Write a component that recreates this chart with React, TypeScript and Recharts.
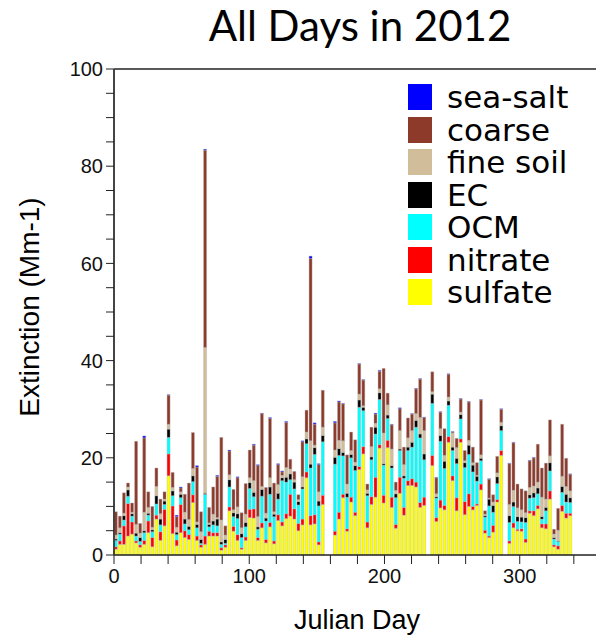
import React from 'react';
import { BarChart, Bar, XAxis, YAxis, ReferenceLine } from 'recharts';

// IMPROVE sampling days (every third day), a few samples missing
const days = [
  1, 4, 7, 10, 13, 16, 19, 22, 25, 28, 31, 34, 37, 40, 43, 46, 49, 52, 55, 58,
  61, 64, 67, 70, 73, 76, 79, 82, 85, 88, 91, 94, 97, 100, 103, 106, 109, 112, 115, 118,
  121, 124, 127, 130, 133, 136, 139, 142, 145, 148, 151, 154,
  163, 166, 169, 172, 175, 178, 181, 184, 187, 190, 193, 196, 199, 202, 205, 208, 211, 214,
  217, 220, 223, 226, 229,
  235, 238, 241, 244, 247, 250, 253, 256, 259, 262, 265, 268, 271, 274, 277, 280, 283, 286,
  292, 295, 298, 301, 304, 307, 310, 313, 316, 319, 322, 325, 328, 331, 334, 337,
];

const sulfate = [
  1.2, 2.2, 2.2, 3.9, 4.3, 2.5, 1.6, 2.2, 4.6, 1.7, 7.4, 3.0, 6.0, 16.3, 4.4, 1.9, 4.6, 3.6, 3.2, 10.8,
  3.0, 1.6, 2.2, 3.9, 3.9, 3.9, 1.0, 1.6, 9.1, 4.9, 3.0, 1.2, 3.0, 7.7, 7.6, 3.0, 5.6, 2.5, 5.8, 2.3,
  7.1, 6.0, 7.5, 8.0, 7.4, 5.0, 6.2, 15.9, 6.2, 6.4, 2.1, 10.4,
  4.1, 7.4, 11.8, 4.9, 10.9, 8.1, 17.6, 20.8, 5.6, 10.4, 11.9, 22.0, 10.7, 22.1, 9.8, 5.5, 12.7, 8.2,
  14.3, 14.3, 14.0, 9.8, 10.2,
  18.4, 6.9, 9.7, 9.3, 23.2, 15.3, 9.1, 23.2, 8.3, 10.0, 9.3, 10.2, 13.4, 4.5, 3.6, 4.7, 10.9, 20.5,
  2.4, 5.6, 5.0, 4.9, 2.6, 8.6, 8.1, 9.5, 5.6, 5.4, 11.5, 1.7, 1.2, 9.0, 7.6, 8.1,
];

const nitrate = [
  0.5, 0.7, 3.8, 6.7, 2.5, 0.4, 0.5, 0.8, 2.4, 1.9, 0.8, 1.8, 3.4, 4.5, 5.7, 1.2, 5.8, 1.4, 1.0, 1.6,
  0.9, 0.5, 1.7, 1.0, 0.7, 0.7, 0.5, 0.5, 0.8, 1.0, 1.2, 0.3, 0.7, 1.7, 1.9, 0.6, 1.0, 0.7, 0.9, 0.6,
  1.2, 0.8, 1.0, 4.5, 2.1, 1.5, 1.2, 1.2, 1.9, 1.9, 0.6, 1.9,
  0.8, 1.4, 0.7, 0.5, 1.0, 0.7, 0.6, 1.5, 1.2, 1.6, 4.1, 0.7, 1.6, 1.5, 2.1, 0.8, 3.3, 1.6,
  1.0, 1.4, 1.0, 1.0, 1.7,
  2.1, 0.8, 1.6, 0.9, 1.2, 1.0, 2.7, 0.7, 2.7, 2.6, 0.7, 0.3, 1.2, 0.6, 0.3, 1.4, 0.5, 1.0,
  0.5, 1.0, 0.3, 0.5, 0.7, 0.5, 1.0, 0.7, 0.8, 1.0, 1.7, 0.4, 0.7, 1.2, 1.0, 0.5,
];

const ocm = [
  1.3, 1.4, 1.2, 1.5, 1.2, 1.0, 0.7, 1.6, 1.2, 1.2, 2.3, 1.4, 1.0, 3.4, 2.1, 1.1, 1.4, 1.4, 1.0, 2.7,
  1.7, 0.3, 8.6, 0.9, 1.6, 1.4, 0.7, 0.3, 4.1, 2.0, 3.3, 2.1, 2.1, 4.3, 2.5, 1.7, 5.5, 3.8, 5.8, 5.0,
  3.2, 8.5, 6.5, 3.0, 4.1, 3.8, 6.2, 5.8, 9.8, 12.4, 7.4, 11.0,
  13.8, 11.7, 7.9, 6.5, 8.1, 8.6, 12.2, 7.4, 5.4, 7.6, 8.9, 9.3, 6.2, 4.5, 6.0, 5.5, 5.5, 6.0,
  6.2, 6.5, 11.3, 13.3, 7.7,
  10.7, 4.0, 12.1, 7.6, 6.4, 5.2, 7.0, 4.1, 7.0, 8.1, 7.1, 4.7, 4.8, 2.7, 6.2, 2.7, 3.3, 4.1,
  3.8, 3.4, 1.6, 1.4, 3.4, 2.6, 2.7, 2.4, 1.0, 2.7, 4.1, 1.2, 0.9, 2.7, 2.3, 2.2,
];

const ec = [
  0.3, 0.3, 0.9, 1.3, 0.5, 0.6, 0.8, 0.4, 0.4, 0.4, 1.7, 1.2, 0.7, 1.7, 1.0, 0.5, 0.7, 1.0, 0.7, 1.2,
  0.7, 0.8, 0.2, 0.5, 0.8, 1.4, 0.5, 0.8, 1.5, 0.8, 1.0, 0.8, 0.9, 1.2, 0.9, 0.5, 1.4, 0.6, 1.5, 0.5,
  1.2, 0.6, 1.0, 1.2, 1.4, 0.7, 0.4, 1.0, 0.8, 1.4, 1.0, 1.3,
  1.4, 1.4, 0.7, 0.8, 0.7, 1.0, 1.5, 0.7, 0.5, 0.6, 1.4, 1.4, 0.3, 0.7, 0.5, 0.8, 0.3, 0.5,
  0.7, 1.0, 1.4, 0.8, 1.2,
  1.9, 0.3, 1.2, 1.5, 0.9, 0.7, 1.1, 0.9, 1.0, 1.9, 1.4, 1.0, 0.5, 0.3, 1.4, 1.4, 1.4, 1.0,
  1.4, 0.9, 1.0, 1.0, 1.0, 0.7, 1.0, 1.2, 0.5, 0.7, 1.7, 0.3, 0.1, 1.2, 1.6, 1.0,
];

const fineSoil = [
  0.8, 1.0, 0.5, 0.6, 0.3, 1.8, 0.9, 3.8, 1.2, 0.5, 1.9, 1.1, 0.4, 1.0, 0.7, 1.0, 0.5, 1.4, 1.4, 1.5,
  0.5, 1.6, 30.0, 0.3, 1.4, 0.3, 4.5, 0.9, 1.0, 0.6, 1.4, 1.2, 1.7, 1.0, 2.4, 2.1, 0.6, 1.0, 1.9, 0.5,
  1.8, 0.5, 2.0, 1.0, 0.5, 0.4, 2.1, 1.4, 4.8, 0.5, 1.9, 1.7,
  1.5, 1.7, 2.4, 1.9, 0.8, 0.7, 1.2, 0.3, 0.7, 2.1, 0.8, 0.8, 6.3, 2.1, 3.4, 0.7, 3.8, 2.3,
  1.9, 2.4, 1.4, 3.4, 4.8,
  0.5, 0.6, 1.4, 1.2, 0.8, 2.9, 2.2, 0.5, 0.4, 1.0, 0.5, 0.2, 0.7, 0.3, 0.2, 0.7, 0.8, 0.7,
  2.3, 2.4, 1.8, 1.5, 1.0, 1.5, 1.4, 1.2, 4.0, 1.7, 1.4, 0.7, 2.2, 2.1, 1.6, 1.4,
];

const coarse = [
  4.8, 2.4, 4.2, 0.8, 1.9, 17.1, 2.0, 15.3, 3.2, 4.3, 3.8, 3.0, 1.5, 6.0, 3.1, 2.2, 0.8, 3.7, 7.5, 7.4,
  11.3, 4.1, 40.6, 3.2, 5.6, 8.5, 17.0, 1.9, 4.9, 4.2, 6.0, 3.1, 6.3, 5.7, 7.3, 10.5, 15.0, 5.3, 12.2, 5.9,
  4.1, 0.7, 9.3, 2.0, 1.7, 1.0, 7.2, 4.5, 37.5, 4.3, 5.6, 7.6,
  5.6, 7.9, 7.6, 6.0, 3.8, 4.6, 6.2, 5.3, 1.2, 4.0, 1.9, 3.6, 13.3, 2.4, 5.0, 1.7, 4.5, 3.6,
  4.1, 3.4, 5.1, 7.9, 2.7,
  4.1, 3.3, 3.4, 5.5, 4.7, 0.2, 1.9, 2.7, 2.1, 7.9, 3.2, 2.6, 11.3, 0.7, 3.9, 1.5, 3.4, 2.7,
  8.4, 9.8, 4.9, 4.3, 4.5, 5.5, 5.8, 7.8, 6.0, 7.4, 7.4, 1.0, 4.5, 10.7, 5.8, 3.4,
];

const seaSalt = [
  0, 0, 0, 0, 0, 0, 0, 0.4, 0, 0, 0, 0, 0, 0.1, 0, 0.3, 0.2, 0, 0, 0,
  0.3, 0, 0.2, 0, 0, 0.2, 0, 0, 0.2, 0, 0.2, 0, 0, 0, 0.2, 0.2, 0.1, 0, 0.2, 0,
  0.2, 0.2, 0.2, 0, 0, 0, 0.2, 0, 0.5, 0.3, 0.2, 0,
  0.3, 0.2, 0.1, 0, 0, 0, 0.1, 0.1, 0, 0, 0.2, 0.2, 0, 0, 0.1, 0, 0.2, 0,
  0, 0.1, 0.1, 0.1, 0.1,
  0, 0.1, 0.1, 0, 0.1, 0.1, 0, 0.1, 0, 0.1, 0, 0, 0.1, 0, 0.1, 0, 0, 0.1,
  0.1, 0.1, 0, 0, 0, 0.1, 0.1, 0, 0, 0, 0, 0, 0, 0, 0, 0.1,
];

const xTicks = [0, 20, 40, 60, 80, 100, 120, 140, 160, 180, 200, 220, 240, 260, 280, 300, 320, 340, 360];
const yTicks = [0, 5, 10, 15, 20, 25, 30, 35, 40, 45, 50, 55, 60, 65, 70, 75, 80, 85, 90, 95, 100];

// bottom to top of the stack
const series = [
  { key: 'sulfate', label: 'sulfate', color: '#FFFF00' },
  { key: 'nitrate', label: 'nitrate', color: '#FF0000' },
  { key: 'ocm', label: 'OCM', color: '#00FFFF' },
  { key: 'ec', label: 'EC', color: '#000000' },
  { key: 'fineSoil', label: 'fine soil', color: '#D2BD9A' },
  { key: 'coarse', label: 'coarse', color: '#8E3A2B' },
  { key: 'seaSalt', label: 'sea-salt', color: '#0000FF' },
];

const data = days.map((day, i) => ({
  day,
  sulfate: sulfate[i],
  nitrate: nitrate[i],
  ocm: ocm[i],
  ec: ec[i],
  fineSoil: fineSoil[i],
  coarse: coarse[i],
  seaSalt: seaSalt[i],
}));

const axisFont = '"Liberation Sans", Arial, sans-serif';

export default function App() {
  const legendItems = [...series].reverse();
  return (
    <div
      style={{
        position: 'absolute',
        left: 0,
        top: 0,
        width: 596,
        height: 642,
        overflow: 'hidden',
        background: '#fff',
        fontFamily: axisFont,
      }}
    >
      <BarChart
        width={620}
        height={642}
        data={data}
        barSize={3}
        margin={{ top: 69, right: 11, bottom: 57, left: 54 }}
      >
        <XAxis
          dataKey="day"
          type="number"
          domain={[0, 366]}
          ticks={xTicks}
          interval={0}
          allowDataOverflow
          height={30}
          tickSize={9}
          tickMargin={5}
          tickFormatter={(v) => (v % 100 === 0 ? String(v) : '')}
          axisLine={{ stroke: '#222', strokeWidth: 1.5 }}
          tickLine={{ stroke: '#222' }}
          tick={{ fontSize: 20, fill: '#111', fontFamily: axisFont }}
        />
        <YAxis
          type="number"
          domain={[0, 100]}
          ticks={yTicks}
          interval={0}
          width={60}
          tickSize={8}
          tickMargin={3}
          tickFormatter={(v) => (v % 20 === 0 ? String(v) : '')}
          axisLine={{ stroke: '#444', strokeWidth: 2 }}
          tickLine={{ stroke: '#222' }}
          tick={{ fontSize: 20, fill: '#111', fontFamily: axisFont }}
        />
        <ReferenceLine y={100} stroke="#222" strokeWidth={1.5} />
        {series.map((s) => (
          <Bar
            key={s.key}
            dataKey={s.key}
            stackId="a"
            fill={s.color}
            stroke="#b4b4b4"
            strokeWidth={0.4}
            isAnimationActive={false}
          />
        ))}
      </BarChart>

      <div
        style={{
          position: 'absolute',
          left: 110,
          width: 500,
          top: 0,
          textAlign: 'center',
          fontFamily: 'Lato, sans-serif',
          fontSize: 42,
          lineHeight: '51px',
          color: '#000',
        }}
      >
        All Days in 2012
      </div>

      <div
        style={{
          position: 'absolute',
          left: 207,
          width: 300,
          top: 604,
          textAlign: 'center',
          fontSize: 27,
          lineHeight: '32px',
          color: '#000',
        }}
      >
        Julian Day
      </div>

      <div
        style={{
          position: 'absolute',
          left: 30 - 150,
          top: 307 - 16,
          width: 300,
          textAlign: 'center',
          fontSize: 28,
          lineHeight: '32px',
          color: '#000',
          transform: 'rotate(-90deg)',
        }}
      >
        Extinction (Mm-1)
      </div>

      {legendItems.map((s, i) => (
        <div
          key={s.key}
          style={{
            position: 'absolute',
            left: 408,
            top: 84 + i * 32.5,
            height: 26,
            display: 'flex',
            alignItems: 'center',
          }}
        >
          <div style={{ width: 24, height: 26, background: s.color }} />
          <span
            style={{
              marginLeft: 15,
              fontFamily: '"DejaVu Sans", sans-serif',
              fontSize: 31,
              lineHeight: '26px',
              color: '#000',
            }}
          >
            {s.label}
          </span>
        </div>
      ))}
    </div>
  );
}
